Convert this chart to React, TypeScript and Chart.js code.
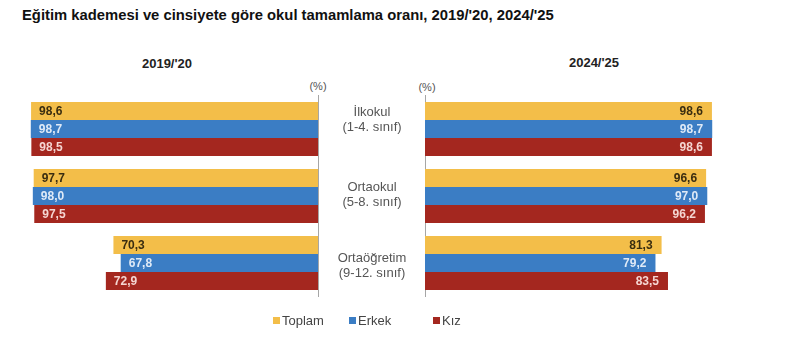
import React, { useEffect, useRef } from 'react';
import { Chart, registerables } from 'chart.js';

Chart.register(...registerables);

const chartTitle = "Eğitim kademesi ve cinsiyete göre okul tamamlama oranı, 2019/'20, 2024/'25";
const periods = ["2019/'20", "2024/'25"];
const categories = ['İlkokul', 'Ortaokul', 'Ortaöğretim'];
const categorySub = ['(1-4. sınıf)', '(5-8. sınıf)', '(9-12. sınıf)'];
const seriesNames = ['Toplam', 'Erkek', 'Kız'];
const toplam2019 = [98.6, 97.7, 70.3];
const erkek2019 = [98.7, 98.0, 67.8];
const kiz2019 = [98.5, 97.5, 72.9];
const toplam2024 = [98.6, 96.6, 81.3];
const erkek2024 = [98.7, 97.0, 79.2];
const kiz2024 = [98.6, 96.2, 83.5];
const unitLabel = '(%)';

const FONT = "'Liberation Sans', Arial, Helvetica, sans-serif";
const barColors = ['#F3BE49', '#3B7DC4', '#A4271F'];
const labelColors = ['#3a2d10', '#dfeaf7', '#f5d6d2'];

const fmt = (v: number) => v.toFixed(1).replace('.', ',');

const valueLabels = {
  id: 'valueLabels',
  afterDatasetsDraw(chart: any, _args: any, opts: any) {
    const ctx = chart.ctx;
    chart.data.datasets.forEach((ds: any, i: number) => {
      const meta = chart.getDatasetMeta(i);
      meta.data.forEach((el: any, j: number) => {
        const txt = fmt(ds.data[j]);
        ctx.save();
        ctx.font = `bold 12px ${FONT}`;
        ctx.fillStyle = labelColors[i];
        ctx.textBaseline = 'middle';
        if (opts.side === 'left') {
          ctx.textAlign = 'left';
          ctx.fillText(txt, el.x + 8, el.y + 1);
        } else {
          ctx.textAlign = 'right';
          ctx.fillText(txt, el.x - 9, el.y + 1);
        }
        ctx.restore();
      });
    });
  },
};

function makeConfig(series: number[][], side: 'left' | 'right'): any {
  const padLeft = side === 'left' ? 27 : 425;
  const padRight = side === 'left' ? 800 - 318 : 800 - 716;
  return {
    type: 'bar',
    data: {
      labels: categories,
      datasets: series.map((d, i) => ({
        label: seriesNames[i],
        data: d,
        backgroundColor: barColors[i],
        borderWidth: 0,
        barPercentage: 1,
        categoryPercentage: 54 / 67,
      })),
    },
    options: {
      indexAxis: 'y',
      responsive: false,
      animation: false,
      devicePixelRatio: 1,
      layout: { padding: { left: padLeft, right: padRight, top: 95.5, bottom: 62.5 } },
      scales: {
        x: {
          min: 0,
          max: 100,
          reverse: side === 'left',
          display: false,
        },
        y: {
          position: side === 'left' ? 'right' : 'left',
          grid: { display: false, drawTicks: false },
          ticks: { display: false },
          border: { display: true, color: '#a6a6a6', width: 1 },
        },
      },
      plugins: {
        legend: { display: false },
        title: { display: false },
        tooltip: { enabled: false },
        valueLabels: { side },
      },
    },
    plugins: [valueLabels],
  };
}

export default function App() {
  const leftRef = useRef<HTMLCanvasElement>(null);
  const rightRef = useRef<HTMLCanvasElement>(null);

  useEffect(() => {
    const c1 = new Chart(leftRef.current!, makeConfig([toplam2019, erkek2019, kiz2019], 'left'));
    const c2 = new Chart(rightRef.current!, makeConfig([toplam2024, erkek2024, kiz2024], 'right'));
    return () => {
      c1.destroy();
      c2.destroy();
    };
  }, []);

  const abs = (s: any) => ({ position: 'absolute' as const, ...s });
  const catTops = [104, 179, 250];
  const legendX = [273, 349, 433];

  return (
    <div style={{ position: 'absolute', left: 0, top: 0, width: 800, height: 359, background: '#fff', fontFamily: FONT, overflow: 'hidden' }}>
      <div style={abs({ left: 22, top: 7, fontSize: 14.8, lineHeight: '16px', fontWeight: 'bold', color: '#111', whiteSpace: 'nowrap' })}>{chartTitle}</div>
      <div style={abs({ left: 117, width: 100, top: 56, fontSize: 13, lineHeight: '16px', fontWeight: 'bold', color: '#222', textAlign: 'center' })}>{periods[0]}</div>
      <div style={abs({ left: 544, width: 100, top: 54.5, fontSize: 13, lineHeight: '16px', fontWeight: 'bold', color: '#222', textAlign: 'center' })}>{periods[1]}</div>
      <div style={abs({ left: 298, width: 40, top: 79, fontSize: 11, lineHeight: '14px', color: '#555', textAlign: 'center' })}>{unitLabel}</div>
      <div style={abs({ left: 407, width: 40, top: 80, fontSize: 11, lineHeight: '14px', color: '#555', textAlign: 'center' })}>{unitLabel}</div>
      <canvas ref={leftRef} width={800} height={359} style={abs({ left: 0, top: 0 })} />
      <canvas ref={rightRef} width={800} height={359} style={abs({ left: 0, top: 0 })} />
      {categories.map((c, i) => (
        <div key={c} style={abs({ left: 322, width: 100, top: catTops[i], fontSize: 13, lineHeight: '15px', color: '#555', textAlign: 'center' })}>
          <div>{c}</div>
          <div>{categorySub[i]}</div>
        </div>
      ))}
      {seriesNames.map((s, i) => (
        <div key={s} style={abs({ left: legendX[i], top: 313, height: 15, display: 'flex', alignItems: 'center', fontSize: 13, color: '#444', whiteSpace: 'nowrap' })}>
          <span style={{ display: 'inline-block', width: 7, height: 7, background: barColors[i], marginRight: 2 }} />
          <span>{s}</span>
        </div>
      ))}
    </div>
  );
}
